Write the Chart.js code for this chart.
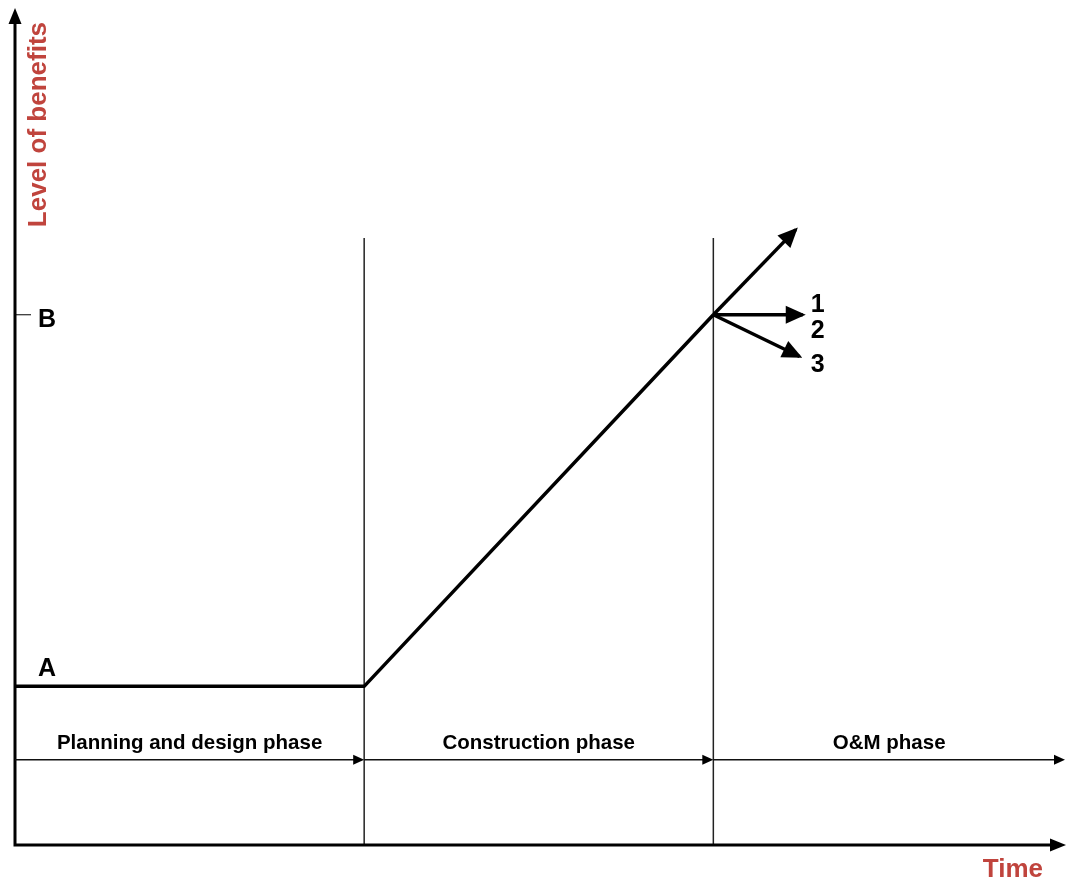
<!DOCTYPE html>
<html>
<head>
<meta charset="utf-8">
<script src="https://cdn.jsdelivr.net/npm/chart.js@4.4.0/dist/chart.umd.min.js"></script>
<style>
  body { margin: 0; background: #fff; }
  canvas { display: block; }
</style>
</head>
<body>
<canvas id="chart" width="1066" height="880"></canvas>
<script>
// Phases along the time axis (boundaries in phase units)
const phaseNames = ['Planning and design phase', 'Construction phase', 'O&M phase'];
const phaseBounds = [0, 1, 2, 3.01];
const dividerTop = 7.27;

// Benefit path: flat at A while planning, rising to B by end of construction
const levelLabels = ['A', 'B'];
const levelValues = [1.9, 6.35];
const benefitX = [0, 1, 2];
const benefitY = [1.9, 1.9, 6.35];

// O&M scenarios leaving from B
const scenarioNames = ['1', '2', '3'];
const scenarioEndX = [2.236, 2.256, 2.247];
const scenarioEndY = [7.37, 6.35, 5.85];

const RED = '#c0443d';
const FONT = '"Liberation Sans", Arial, sans-serif';

function arrowHead(ctx, x0, y0, x1, y1, len, half) {
    const a = Math.atan2(y1 - y0, x1 - x0);
    const c = Math.cos(a), s = Math.sin(a);
    ctx.beginPath();
    ctx.moveTo(x1, y1);
    ctx.lineTo(x1 - len * c - half * s, y1 - len * s + half * c);
    ctx.lineTo(x1 - len * c + half * s, y1 - len * s - half * c);
    ctx.closePath();
    ctx.fill();
}

const datasets = [{
    data: benefitX.map((x, i) => ({ x, y: benefitY[i] })),
    borderColor: '#000',
    borderWidth: 3.5,
    borderJoinStyle: 'miter'
}];
scenarioNames.forEach((n, i) => {
    datasets.push({
        data: [{ x: benefitX[2], y: benefitY[2] }, { x: scenarioEndX[i], y: scenarioEndY[i] }],
        borderColor: '#000',
        borderWidth: 3.5,
        arrow: true
    });
});
phaseBounds.slice(1, -1).forEach(b => {
    datasets.push({
        data: [{ x: b, y: 0 }, { x: b, y: dividerTop }],
        borderColor: '#222',
        borderWidth: 1.5
    });
});
datasets.forEach(d => { d.showLine = true; d.pointRadius = 0; d.fill = false; });

const diagram = {
    id: 'diagram',
    afterDatasetsDraw(chart) {
        const ctx = chart.ctx;
        const ca = chart.chartArea;
        const xs = chart.scales.x, ys = chart.scales.y;
        ctx.save();
        ctx.fillStyle = '#000';
        ctx.strokeStyle = '#000';

        // scenario arrowheads
        chart.data.datasets.forEach((d, i) => {
            if (!d.arrow) return;
            const pts = chart.getDatasetMeta(i).data;
            const p0 = pts[0], p1 = pts[1];
            const a = Math.atan2(p1.y - p0.y, p1.x - p0.x);
            arrowHead(ctx, p0.x, p0.y, p1.x + 3 * Math.cos(a), p1.y + 3 * Math.sin(a), 20, 9);
        });

        // axes
        ctx.lineWidth = 3;
        ctx.beginPath();
        ctx.moveTo(ca.left, ca.bottom);
        ctx.lineTo(ca.left, ca.top + 10);
        ctx.moveTo(ca.left - 1.5, ca.bottom);
        ctx.lineTo(ca.right - 10, ca.bottom);
        ctx.stroke();
        arrowHead(ctx, ca.left, ca.bottom, ca.left, ca.top - 2, 16, 6.5);
        arrowHead(ctx, ca.left, ca.bottom, ca.right, ca.bottom, 16, 6.5);

        // B tick
        const yB = ys.getPixelForValue(levelValues[1]);
        ctx.lineWidth = 1;
        ctx.beginPath();
        ctx.moveTo(ca.left, yB);
        ctx.lineTo(ca.left + 16, yB);
        ctx.stroke();

        // phase arrows and names
        const yP = ys.getPixelForValue(1.02);
        ctx.lineWidth = 1.5;
        ctx.strokeStyle = '#111';
        ctx.font = 'bold 20.5px ' + FONT;
        ctx.textAlign = 'center';
        ctx.textBaseline = 'alphabetic';
        phaseNames.forEach((name, i) => {
            const x0 = xs.getPixelForValue(phaseBounds[i]);
            const x1 = Math.min(xs.getPixelForValue(phaseBounds[i + 1]), ca.right - 1);
            ctx.beginPath();
            ctx.moveTo(x0, yP);
            ctx.lineTo(x1 - 6, yP);
            ctx.stroke();
            arrowHead(ctx, x0, yP, x1, yP, 11, 5);
            ctx.fillText(name, (x0 + x1) / 2, yP - 11);
        });

        // level labels
        ctx.font = 'bold 25px ' + FONT;
        ctx.textAlign = 'left';
        ctx.fillText(levelLabels[0], ca.left + 23, ys.getPixelForValue(levelValues[0]) - 10);
        ctx.fillText(levelLabels[1], ca.left + 23, yB + 12);

        // scenario labels
        const tip2 = chart.getDatasetMeta(2).data[1];
        const tip3 = chart.getDatasetMeta(3).data[1];
        const lx = tip2.x + 8;
        ctx.fillText(scenarioNames[0], lx, yB - 3);
        ctx.fillText(scenarioNames[1], lx, yB + 23);
        ctx.fillText(scenarioNames[2], lx, tip3.y + 15);

        // axis titles
        ctx.fillStyle = RED;
        ctx.font = 'bold 26px ' + FONT;
        ctx.textAlign = 'right';
        ctx.fillText('Time', ca.right - 23, ca.bottom + 32);
        ctx.translate(ca.left + 31, ca.top + 12);
        ctx.rotate(-Math.PI / 2);
        ctx.fillText('Level of benefits', 0, 0);
        ctx.restore();
    }
};

new Chart(document.getElementById('chart').getContext('2d'), {
    type: 'scatter',
    data: { datasets },
    options: {
        responsive: false,
        animation: false,
        layout: { padding: { left: 15, right: 0, top: 10, bottom: 35 } },
        scales: {
            x: { type: 'linear', display: false, min: phaseBounds[0], max: phaseBounds[3] },
            y: { type: 'linear', display: false, min: 0, max: 10 }
        },
        plugins: { legend: { display: false }, tooltip: { enabled: false } }
    },
    plugins: [diagram]
});
</script>
</body>
</html>
